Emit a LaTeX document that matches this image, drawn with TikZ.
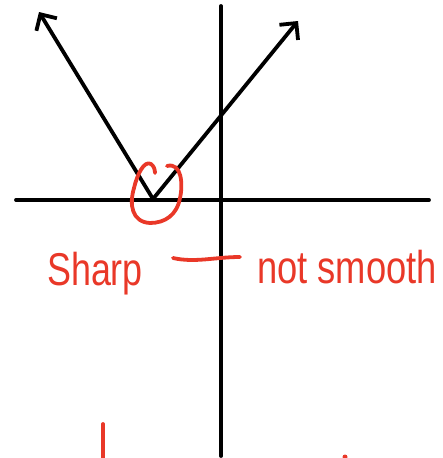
\documentclass[tikz,border=0pt]{standalone}
\usepackage{fontspec}
\setmainfont{Liberation Sans}
\usetikzlibrary{arrows.meta}
\definecolor{markRed}{RGB}{233, 56, 40}

\begin{document}
\begin{tikzpicture}[x=1pt, y=-1pt,
    axis/.style={line width=3.8pt, line cap=round},
    ray/.style={line width=3.8pt, line cap=round, -{Straight Barb[length=12pt, width=24pt, line width=3.8pt]}},
    ink/.style={markRed, line width=3.8pt, line cap=round, line join=round},
    note/.style={markRed, font=\fontsize{46}{46}\selectfont, inner sep=0pt, anchor=base west}]
        \useasboundingbox (0,0) rectangle (442,458);
        \clip (0,0) rectangle (442,458);
        % axes
        \coordinate (xl) at (16,200);
        \coordinate (xr) at (429,200);
        \coordinate (yt) at (221,6);
        \coordinate (yb) at (221,456);
        \draw[axis] (xl) -- (xr);
        \draw[axis] (yt) -- (yb);
        % the two rays from the corner
        \coordinate (V) at (153,199);
        \coordinate (L) at (39,12);
        \coordinate (R) at (298,21);
        \draw[ray] (V) -- (L);
        \draw[ray] (V) -- (R);
        % red loop round the corner
        \draw[ink] (167,166) .. controls (182,162) and (183,185) .. (180,198)
          .. controls (177,215) and (165,223) .. (150,223)
          .. controls (132,222) and (129,205) .. (134,188)
          .. controls (137,175) and (144,160) .. (151,164)
          .. controls (154,166) and (155,170) .. (155,173);
        % labels
        \node[note, xscale=0.78] (sharp) at (47,285) {Sharp};
        \coordinate (d1) at (173,258);
        \coordinate (d2) at (240,257);
        \draw[ink] (d1) .. controls (195,263) and (215,257) .. (d2);
        \node[note, xscale=0.79] (smooth) at (257,283) {not smooth};
        % bottom marks
        \coordinate (m1) at (103,424);
        \coordinate (m2) at (103,460);
        \draw[ink] (m1) -- (m2);
        \fill[markRed] (345,457) circle (2.5pt);
\end{tikzpicture}
\end{document}
